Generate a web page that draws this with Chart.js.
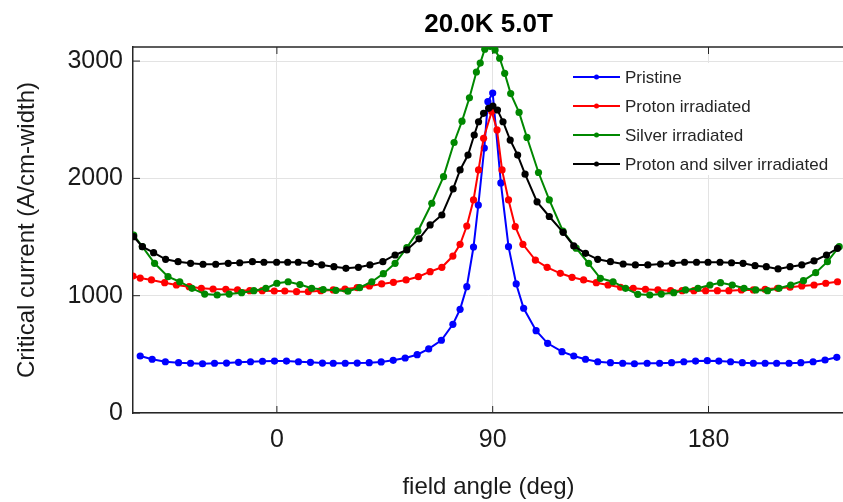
<!DOCTYPE html>
<html>
<head>
<meta charset="utf-8">
<title>20.0K 5.0T</title>
<script src="https://cdn.jsdelivr.net/npm/chart.js@4.4.1/dist/chart.umd.min.js"></script>
<style>
    html, body { margin: 0; padding: 0; background: #fff; overflow: hidden; width: 843px; height: 502px; }
    #wrap { width: 848px; height: 502px; position: relative; }
</style>
</head>
<body>
<div id="wrap"><canvas id="jcChart"></canvas></div>
<script>
// values (field angle in deg, Jc in A/cm-width)
const xTicks = [0, 90, 180];
const yTicks = [0, 1000, 2000, 3000];
const seriesNames = ["Pristine", "Proton irradiated", "Silver irradiated", "Proton and silver irradiated"];
const seriesColors = ["#0000ff", "#ff0000", "#008800", "#000000"];

const pristineAngle = [-57, -52, -46.5, -41, -36, -31, -26, -21, -16, -11, -6, -1, 4, 9, 14, 19, 23.5, 28.5, 33.5, 38.5,
    43.5, 48.5, 53.5, 58.5, 63.3, 68.6, 73.4, 76.4, 79.2, 82, 84, 86.5, 88, 90, 93.4, 96.6, 99.8, 102.9, 108.1, 112.9,
    118.9, 123.8, 128.7, 133.8, 139.1, 144.2, 149.1, 154.4, 159.6, 164.6, 169.7, 174.6, 179.5, 184.3, 189.2, 194.1,
    198.7, 203.6, 208.4, 213.6, 218.5, 223.6, 228.6, 233.5];
const pristineJc = [486, 458, 437, 429, 424, 420, 424, 426, 432, 437, 441, 443, 443, 437, 432, 426, 424, 424, 426, 429,
    435, 449, 469, 497, 546, 620, 756, 884, 1077, 1415, 1773, 2259, 2654, 2728, 1961, 1418, 1100, 893, 702, 594,
    523, 486, 458, 437, 429, 424, 420, 424, 424, 429, 437, 443, 446, 443, 437, 429,
    424, 424, 424, 424, 429, 437, 452, 475];

const protonAngle = [-60, -57, -52.3, -46.8, -41.9, -36.6, -31.5, -26.6, -21.3, -16.4, -11.3, -6.1, -1.1, 3.3, 8.2, 13.1,
    18.3, 23.5, 28.4, 33.5, 38.6, 43.7, 48.6, 53.9, 59, 63.9, 68.8, 73.4, 76.4, 79.2, 82, 84.1, 86.2, 89.6, 91.8, 93.9,
    96.6, 99.4, 102.6, 107.8, 112.7, 118.2, 123.1, 127.9, 133.2, 138.1, 143.3, 148.6, 153.7, 158.9, 164.2, 169, 173.9,
    178.8, 183.7, 188.5, 193.7, 198.7, 203.6, 208.8, 214, 218.9, 224, 228.9, 233.8];
const protonJc = [1168, 1150, 1134, 1111, 1091, 1077, 1063, 1057, 1055, 1049, 1043, 1043, 1040, 1040, 1034, 1034,
    1043, 1049, 1057, 1068, 1083, 1100, 1114, 1134, 1162, 1205, 1242, 1338, 1438, 1594, 1816, 2072, 2342, 2570, 2413, 2072,
    1816, 1588, 1438, 1304, 1242, 1191, 1157, 1134, 1111, 1091, 1072, 1063, 1055, 1049, 1043, 1043, 1043,
    1043, 1043, 1043, 1049, 1049, 1055, 1063, 1072, 1083, 1091, 1106, 1119];

const silverAngle = [-59.7, -56.1, -51, -45.4, -40.5, -35.4, -30.1, -24.9, -19.9, -14.7, -9.6, -4.6, 0, 4.7, 9.6, 14.5,
    19.3, 24.6, 29.6, 34.5, 39.6, 44.4, 49.3, 54.2, 58.8, 64.6, 69.5, 73.9, 77.2, 80.3, 83.2, 84.8, 86.7, 89, 91, 92.9,
    95, 97.5, 101, 104.3, 109.1, 113.6, 119.3, 124.8, 130, 134.9, 140.2, 145.4, 150.5, 155.5, 160.3, 165.5, 170.4,
    175.6, 180.6, 185, 189.9, 194.8, 199.7, 204.6, 209.4, 214.3, 219.6, 224.7, 229.6, 234.5];
const silverJc = [1517, 1418, 1276, 1162, 1119, 1063, 1014, 1006, 1014, 1026, 1043, 1063, 1106, 1119, 1095, 1063,
    1052, 1046, 1038, 1068, 1119, 1188, 1276, 1410, 1550, 1788, 2015, 2306, 2488, 2687, 2907, 2983, 3101, 3126, 3095, 3024,
    2896, 2723, 2562, 2349, 2050, 1816, 1550, 1405, 1276, 1148, 1119, 1063, 1012, 1006, 1014, 1026, 1049,
    1063, 1091, 1111, 1091, 1063, 1049, 1043, 1063, 1091, 1128, 1196, 1290, 1418];

const bothAngle = [-59.7, -56.1, -51.4, -46.4, -41.2, -36, -30.8, -25.5, -20.3, -15.5, -10.2, -5.4, -0.1, 4.5, 8.9, 14.1,
    18.7, 23.8, 28.8, 34, 38.8, 44.2, 49.3, 54.2, 59.3, 63.9, 68.8, 73.5, 76.4, 79.7, 82.3, 84.1, 86.2, 88.3, 90.1, 92,
    94.3, 97.3, 100.4, 103.5, 108.5, 113.6, 119.4, 123.8, 128.7, 133.8, 139.1, 144.4, 149.5, 154.7, 160, 164.9, 170,
    175, 179.8, 184.8, 189.6, 194.4, 199.4, 204.1, 209, 214, 218.9, 224, 229.2, 233.8];
const bothJc = [1503, 1418, 1367, 1310, 1290, 1276, 1268, 1268, 1276, 1281, 1290, 1285, 1285, 1285, 1285, 1276,
    1262, 1247, 1233, 1242, 1262, 1290, 1347, 1390, 1485, 1603, 1688, 1910, 2072, 2199, 2370, 2483, 2555, 2597, 2617, 2583,
    2483, 2327, 2199, 2036, 1800, 1675, 1540, 1424, 1361, 1310, 1290, 1270, 1262, 1262, 1270, 1276, 1285,
    1285, 1285, 1285, 1281, 1276, 1256, 1247, 1228, 1247, 1262, 1296, 1347, 1404];

const xMin = -60, xMax = 236.5;
const yMin = 0, yMax = 3120;
const fontFamily = "'Liberation Sans', Arial, sans-serif";

function toPoints(angles, values) {
    return angles.map((a, i) => ({ x: a, y: values[i] }));
}

const allAngles = [pristineAngle, protonAngle, silverAngle, bothAngle];
const allValues = [pristineJc, protonJc, silverJc, bothJc];

const datasets = seriesNames.map((name, i) => ({
    label: name,
    data: toPoints(allAngles[i], allValues[i]),
    borderColor: seriesColors[i],
    backgroundColor: seriesColors[i],
    borderWidth: 2,
    pointRadius: 3.6,
    pointBorderWidth: 0,
    pointBackgroundColor: seriesColors[i],
    tension: 0,
    fill: false,
    order: 4 - i
}));

// matlab-like box: top edge, inward ticks, title and in-axes legend
const axesDecor = {
    id: "axesDecor",
    beforeDatasetsDraw(chart) {
        const { ctx, chartArea: a, scales: { x, y } } = chart;
        ctx.save();
        ctx.strokeStyle = "#262626";
        ctx.lineWidth = 1.5;
        ctx.beginPath();
        ctx.moveTo(a.left, a.top);
        ctx.lineTo(a.right, a.top);
        ctx.stroke();

        ctx.lineWidth = 1;
        ctx.beginPath();
        yTicks.forEach(v => {
            const py = y.getPixelForValue(v);
            ctx.moveTo(a.left, py);
            ctx.lineTo(a.left + 7, py);
        });
        xTicks.forEach(v => {
            const px = x.getPixelForValue(v);
            ctx.moveTo(px, a.bottom);
            ctx.lineTo(px, a.bottom - 7);
            ctx.moveTo(px, a.top);
            ctx.lineTo(px, a.top + 7);
        });
        ctx.stroke();
        ctx.restore();
    },
    afterDraw(chart) {
        const { ctx, chartArea: a } = chart;
        ctx.save();
        ctx.fillStyle = "#000";
        ctx.font = "bold 26px " + fontFamily;
        ctx.textAlign = "center";
        ctx.textBaseline = "middle";
        ctx.fillText("20.0K 5.0T", (a.left + a.right) / 2, 25);

        // legend box (white, no edge)
        ctx.fillStyle = "#fff";
        ctx.fillRect(562, 63, 274, 112);
        ctx.font = "17px " + fontFamily;
        ctx.textAlign = "left";
        chart.data.datasets.forEach((ds, i) => {
            const ly = 77 + i * 29;
            ctx.strokeStyle = ds.borderColor;
            ctx.lineWidth = 2;
            ctx.beginPath();
            ctx.moveTo(573, ly);
            ctx.lineTo(620, ly);
            ctx.stroke();
            ctx.fillStyle = ds.borderColor;
            ctx.beginPath();
            ctx.arc(596.5, ly, 2.5, 0, Math.PI * 2);
            ctx.fill();
            ctx.fillStyle = "#262626";
            ctx.fillText(ds.label, 625, ly + 1);
        });
        ctx.restore();
    }
};

const ctx = document.getElementById("jcChart").getContext("2d");
const jcChart = new Chart(ctx, {
    type: "line",
    data: { datasets: datasets },
    options: {
        responsive: true,
        maintainAspectRatio: false,
        animation: false,
        events: [],
        layout: { padding: { top: 47, left: 0, right: 0, bottom: 0 } },
        plugins: {
            legend: { display: false },
            title: { display: false },
            tooltip: { enabled: false }
        },
        scales: {
            x: {
                type: "linear",
                min: xMin,
                max: xMax,
                afterBuildTicks: scale => { scale.ticks = xTicks.map(v => ({ value: v })); },
                afterFit: scale => { scale.height = 89; },
                grid: { color: "#e3e3e3", lineWidth: 1, drawTicks: false },
                border: { color: "#262626", width: 1.5 },
                ticks: {
                    padding: 12,
                    color: "#1a1a1a",
                    font: { family: fontFamily, size: 25 },
                    maxRotation: 0,
                    callback: v => String(v)
                },
                title: {
                    display: true,
                    text: "field angle (deg)",
                    color: "#1a1a1a",
                    font: { family: fontFamily, size: 24 },
                    padding: { top: 0, bottom: 0 }
                }
            },
            y: {
                type: "linear",
                min: yMin,
                max: yMax,
                afterBuildTicks: scale => { scale.ticks = yTicks.map(v => ({ value: v })); },
                afterFit: scale => { scale.width = 133; },
                grid: { color: "#e3e3e3", lineWidth: 1, drawTicks: false },
                border: { color: "#262626", width: 1.5 },
                ticks: {
                    padding: 10,
                    color: "#1a1a1a",
                    font: { family: fontFamily, size: 25 },
                    callback: v => String(v)
                },
                title: {
                    display: true,
                    text: "Critical current (A/cm-width)",
                    color: "#1a1a1a",
                    font: { family: fontFamily, size: 24 },
                    padding: { top: 13, bottom: 0 }
                }
            }
        }
    },
    plugins: [axesDecor]
});
</script>
</body>
</html>
